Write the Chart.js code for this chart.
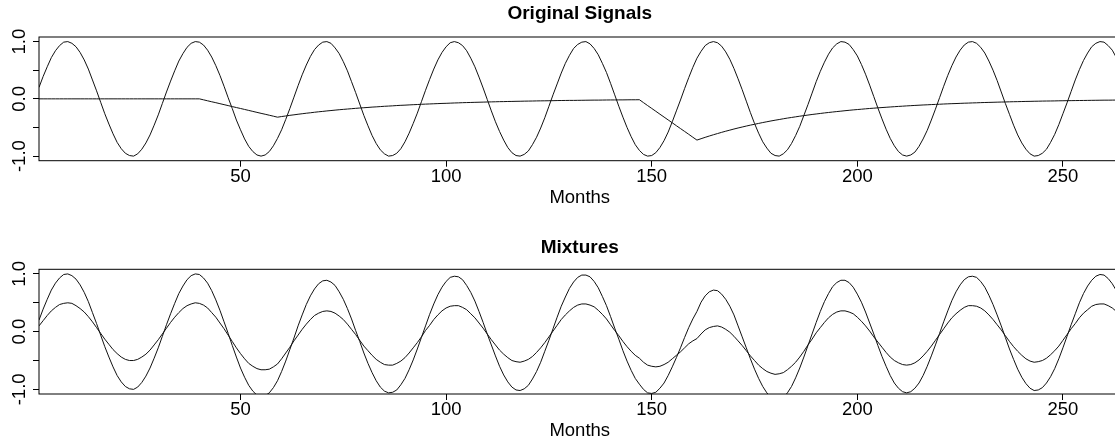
<!DOCTYPE html>
<html><head><meta charset="utf-8">
<script src="https://cdn.jsdelivr.net/npm/chart.js@4.4.1/dist/chart.umd.min.js"></script>
<style>
html,body{margin:0;padding:0;background:#fff;overflow:hidden;}
#wrap{position:relative;width:1115px;height:443px;overflow:hidden;background:#fff;}
canvas{position:absolute;left:0;}
#c1{top:0;} #c2{top:232px;}
</style></head><body>
<div id="wrap"><canvas id="c1" width="1121" height="232"></canvas><canvas id="c2" width="1121" height="211"></canvas></div>
<script>
// Seasonal source signal (months 1..264)
const SEASONAL = [
0.20,0.39,0.56,0.72,0.84,0.93,0.99,1.00,0.97,0.91,
0.81,0.68,0.52,0.33,0.14,-0.06,-0.26,-0.44,-0.61,-0.76,
-0.87,-0.95,-0.99,-1.00,-0.96,-0.88,-0.77,-0.63,-0.46,-0.28,
-0.08,0.12,0.31,0.49,0.66,0.79,0.90,0.97,1.00,0.99,
0.94,0.85,0.73,0.58,0.41,0.22,0.02,-0.17,-0.37,-0.54,
-0.70,-0.83,-0.92,-0.98,-1.00,-0.98,-0.92,-0.82,-0.69,-0.54,
-0.36,-0.17,0.03,0.23,0.42,0.59,0.74,0.86,0.94,0.99,
1.00,0.97,0.89,0.79,0.65,0.49,0.30,0.11,-0.09,-0.29,
-0.47,-0.64,-0.78,-0.89,-0.96,-1.00,-0.99,-0.95,-0.87,-0.75,
-0.60,-0.43,-0.25,-0.05,0.15,0.34,0.52,0.68,0.81,0.91,
0.98,1.00,0.98,0.93,0.84,0.71,0.56,0.38,0.19,-0.01,
-0.21,-0.40,-0.57,-0.72,-0.85,-0.94,-0.99,-1.00,-0.97,-0.91,
-0.80,-0.67,-0.51,-0.33,-0.13,0.07,0.26,0.45,0.62,0.76,
0.88,0.95,0.99,1.00,0.96,0.88,0.77,0.62,0.46,0.27,
0.07,-0.13,-0.32,-0.50,-0.66,-0.80,-0.90,-0.97,-1.00,-0.99,
-0.94,-0.85,-0.73,-0.58,-0.40,-0.21,-0.02,0.18,0.37,0.55,
0.71,0.83,0.93,0.98,1.00,0.98,0.92,0.82,0.69,0.53,
0.35,0.16,-0.04,-0.24,-0.43,-0.60,-0.75,-0.86,-0.95,-0.99,
-1.00,-0.96,-0.89,-0.78,-0.64,-0.48,-0.29,-0.10,0.10,0.30,
0.48,0.64,0.78,0.89,0.96,1.00,0.99,0.95,0.86,0.75,
0.60,0.43,0.24,0.04,-0.16,-0.35,-0.53,-0.69,-0.82,-0.92,
-0.98,-1.00,-0.98,-0.93,-0.83,-0.70,-0.55,-0.37,-0.18,0.02,
0.22,0.41,0.58,0.73,0.85,0.94,0.99,1.00,0.97,0.90,
0.80,0.66,0.50,0.32,0.12,-0.08,-0.27,-0.46,-0.63,-0.77,
-0.88,-0.96,-1.00,-0.99,-0.95,-0.88,-0.76,-0.62,-0.45,-0.26,
-0.07,0.13,0.33,0.51,0.67,0.80,0.91,0.97,1.00,0.99,
0.93,0.85,0.72,0.57
];
// Intervention source signal
const INTERVENTION = [
0,0,0,0,0,0,0,0,0,0,
0,0,0,0,0,0,0,0,0,0,
0,0,0,0,0,0,0,0,0,0,
0,0,0,0,0,0,0,0,0,0,
-0.017,-0.034,-0.051,-0.067,-0.084,-0.101,-0.118,-0.135,-0.152,-0.168,
-0.185,-0.202,-0.219,-0.236,-0.253,-0.269,-0.286,-0.303,-0.320,-0.309,
-0.299,-0.288,-0.279,-0.269,-0.260,-0.251,-0.243,-0.234,-0.226,-0.219,
-0.211,-0.204,-0.197,-0.190,-0.184,-0.178,-0.172,-0.166,-0.160,-0.155,
-0.150,-0.144,-0.140,-0.135,-0.130,-0.126,-0.122,-0.117,-0.113,-0.110,
-0.106,-0.102,-0.099,-0.095,-0.092,-0.089,-0.086,-0.083,-0.080,-0.078,
-0.075,-0.072,-0.070,-0.067,-0.065,-0.063,-0.061,-0.059,-0.057,-0.055,
-0.053,-0.051,-0.049,-0.048,-0.046,-0.045,-0.043,-0.042,-0.040,-0.039,
-0.038,-0.036,-0.035,-0.034,-0.033,-0.032,-0.030,-0.029,-0.028,-0.027,
-0.027,-0.026,-0.025,-0.024,-0.023,-0.022,-0.022,-0.021,-0.020,-0.019,
-0.019,-0.018,-0.018,-0.017,-0.016,-0.016,-0.015,-0.066,-0.117,-0.167,
-0.217,-0.268,-0.318,-0.368,-0.418,-0.469,-0.519,-0.569,-0.619,-0.670,
-0.720,-0.696,-0.672,-0.649,-0.627,-0.606,-0.585,-0.565,-0.546,-0.527,
-0.509,-0.492,-0.475,-0.459,-0.444,-0.429,-0.414,-0.400,-0.386,-0.373,
-0.361,-0.348,-0.336,-0.325,-0.314,-0.303,-0.293,-0.283,-0.273,-0.264,
-0.255,-0.246,-0.238,-0.230,-0.222,-0.215,-0.207,-0.200,-0.193,-0.187,
-0.181,-0.174,-0.168,-0.163,-0.157,-0.152,-0.147,-0.142,-0.137,-0.132,
-0.128,-0.123,-0.119,-0.115,-0.111,-0.107,-0.104,-0.100,-0.097,-0.094,
-0.090,-0.087,-0.084,-0.082,-0.079,-0.076,-0.074,-0.071,-0.069,-0.066,
-0.064,-0.062,-0.060,-0.058,-0.056,-0.054,-0.052,-0.050,-0.049,-0.047,
-0.045,-0.044,-0.042,-0.041,-0.039,-0.038,-0.037,-0.036,-0.034,-0.033,
-0.032,-0.031,-0.030,-0.029,-0.028,-0.027,-0.026,-0.025,-0.024,-0.023,
-0.023,-0.022,-0.021,-0.020
];
// Observed mixture 1 (larger amplitude)
const MIXTURE_1 = [
0.20,0.39,0.56,0.72,0.84,0.93,0.99,1.00,0.97,0.91,
0.81,0.68,0.52,0.33,0.14,-0.06,-0.26,-0.44,-0.61,-0.76,
-0.87,-0.95,-0.99,-1.00,-0.96,-0.88,-0.77,-0.63,-0.46,-0.28,
-0.08,0.12,0.31,0.49,0.66,0.79,0.90,0.97,1.00,0.99,
0.93,0.84,0.71,0.55,0.37,0.17,-0.03,-0.24,-0.44,-0.63,
-0.79,-0.93,-1.03,-1.10,-1.13,-1.11,-1.06,-0.97,-0.85,-0.69,
-0.51,-0.31,-0.11,0.10,0.29,0.47,0.62,0.74,0.83,0.88,
0.89,0.86,0.80,0.69,0.56,0.40,0.22,0.02,-0.17,-0.37,
-0.55,-0.71,-0.85,-0.96,-1.03,-1.06,-1.05,-1.01,-0.92,-0.81,
-0.66,-0.49,-0.30,-0.10,0.10,0.30,0.48,0.64,0.77,0.87,
0.94,0.96,0.95,0.90,0.80,0.68,0.53,0.35,0.16,-0.04,
-0.23,-0.42,-0.60,-0.75,-0.87,-0.96,-1.01,-1.02,-0.99,-0.93,
-0.82,-0.69,-0.53,-0.34,-0.15,0.05,0.25,0.44,0.60,0.75,
0.86,0.94,0.98,0.98,0.95,0.87,0.76,0.61,0.45,0.26,
0.06,-0.13,-0.33,-0.51,-0.67,-0.81,-0.91,-1.00,-1.06,-1.07,
-1.05,-0.98,-0.89,-0.76,-0.61,-0.45,-0.28,-0.10,0.07,0.22,
0.35,0.51,0.62,0.69,0.72,0.71,0.65,0.56,0.44,0.29,
0.10,-0.09,-0.28,-0.47,-0.65,-0.81,-0.95,-1.06,-1.14,-1.18,
-1.18,-1.14,-1.06,-0.95,-0.80,-0.63,-0.44,-0.24,-0.04,0.16,
0.35,0.52,0.66,0.78,0.85,0.89,0.89,0.85,0.77,0.65,
0.51,0.34,0.15,-0.04,-0.24,-0.43,-0.60,-0.76,-0.89,-0.98,
-1.04,-1.06,-1.04,-0.98,-0.89,-0.76,-0.60,-0.42,-0.23,-0.03,
0.17,0.36,0.54,0.69,0.81,0.90,0.95,0.96,0.94,0.87,
0.77,0.63,0.47,0.29,0.10,-0.10,-0.30,-0.48,-0.65,-0.79,
-0.90,-0.98,-1.02,-1.01,-0.97,-0.89,-0.78,-0.64,-0.47,-0.28,
-0.08,0.12,0.31,0.50,0.66,0.79,0.89,0.96,0.99,0.98,
0.92,0.83,0.71,0.56
];
// Observed mixture 2 (smaller amplitude)
const MIXTURE_2 = [
0.10,0.19,0.28,0.36,0.42,0.47,0.49,0.50,0.49,0.45,
0.40,0.34,0.26,0.17,0.07,-0.03,-0.13,-0.22,-0.31,-0.38,
-0.44,-0.48,-0.50,-0.50,-0.48,-0.44,-0.39,-0.32,-0.23,-0.14,
-0.04,0.06,0.16,0.25,0.33,0.40,0.45,0.48,0.50,0.49,
0.46,0.41,0.33,0.25,0.15,0.05,-0.06,-0.17,-0.28,-0.38,
-0.47,-0.55,-0.60,-0.64,-0.66,-0.66,-0.65,-0.61,-0.56,-0.47,
-0.37,-0.27,-0.16,-0.06,0.04,0.13,0.21,0.28,0.32,0.35,
0.36,0.35,0.32,0.27,0.21,0.13,0.04,-0.05,-0.15,-0.25,
-0.33,-0.41,-0.48,-0.53,-0.57,-0.58,-0.58,-0.55,-0.51,-0.45,
-0.37,-0.28,-0.19,-0.09,0.02,0.11,0.21,0.29,0.36,0.41,
0.44,0.45,0.45,0.42,0.38,0.31,0.24,0.15,0.06,-0.04,
-0.14,-0.23,-0.32,-0.39,-0.45,-0.50,-0.52,-0.53,-0.51,-0.48,
-0.43,-0.36,-0.28,-0.19,-0.09,0.01,0.11,0.21,0.29,0.36,
0.42,0.46,0.48,0.48,0.46,0.43,0.37,0.30,0.22,0.12,
0.02,-0.07,-0.17,-0.26,-0.34,-0.41,-0.46,-0.53,-0.58,-0.60,
-0.61,-0.60,-0.57,-0.53,-0.47,-0.41,-0.35,-0.28,-0.21,-0.16,
-0.12,-0.04,0.03,0.07,0.09,0.10,0.08,0.04,-0.01,-0.08,
-0.16,-0.24,-0.33,-0.42,-0.50,-0.58,-0.64,-0.69,-0.72,-0.74,
-0.73,-0.71,-0.66,-0.60,-0.53,-0.44,-0.34,-0.23,-0.13,-0.02,
0.07,0.16,0.24,0.30,0.34,0.36,0.36,0.34,0.31,0.25,
0.18,0.10,0.01,-0.09,-0.18,-0.27,-0.36,-0.44,-0.50,-0.54,
-0.57,-0.58,-0.57,-0.54,-0.49,-0.42,-0.34,-0.25,-0.15,-0.05,
0.05,0.15,0.24,0.31,0.37,0.42,0.45,0.45,0.44,0.41,
0.36,0.29,0.21,0.12,0.03,-0.07,-0.17,-0.26,-0.34,-0.41,
-0.47,-0.51,-0.53,-0.52,-0.50,-0.46,-0.40,-0.33,-0.25,-0.15,
-0.05,0.05,0.14,0.24,0.32,0.38,0.44,0.47,0.48,0.48,
0.45,0.41,0.35,0.27
];
const X_TICKS = [50, 100, 150, 200, 250];
const Y_TICKS = [-1, -0.5, 0, 0.5, 1];
const X_MIN = 1, X_MAX = 264;
const Y_MIN = -1.08, Y_MAX = 1.08;
const MONTHS = SEASONAL.map((_, i) => i + 1);
const FONT = "'Liberation Sans', Arial, Helvetica, sans-serif";

const framePlugin = {
  id: 'frame',
  afterDatasetsDraw(chart) {
    const {ctx, chartArea: a} = chart;
    ctx.save();
    ctx.strokeStyle = '#000';
    ctx.lineWidth = 1;
    ctx.strokeRect(a.left, a.top, a.right - a.left, a.bottom - a.top);
    ctx.restore();
  }
};

function makeChart(id, title, series, cfg) {
  return new Chart(document.getElementById(id), {
    type: 'line',
    data: {
      labels: MONTHS,
      datasets: series.map(s => ({data: s, borderColor: '#111', borderWidth: 1, pointRadius: 0, fill: false, tension: 0}))
    },
    options: {
      responsive: false, animation: false, devicePixelRatio: 1,
      layout: {padding: {left: 0, right: 0.5, top: 0, bottom: 0}},
      plugins: {
        legend: {display: false}, tooltip: {enabled: false},
        title: {display: true, text: title, fullSize: false, color: '#000',
          font: {family: FONT, size: 19, weight: 'bold', lineHeight: 1.2},
          padding: {top: cfg.titleTop, bottom: cfg.titleBottom}}
      },
      scales: {
        x: {
          type: 'linear', min: X_MIN, max: X_MAX,
          afterBuildTicks(s) { s.ticks = X_TICKS.map(v => ({value: v})); },
          afterFit(s) { s.height = cfg.xHeight; },
          grid: {drawOnChartArea: false, drawTicks: true, tickLength: 6, color: '#000'},
          border: {display: false},
          ticks: {autoSkip: false, maxRotation: 0, padding: -1, color: '#000', font: {family: FONT, size: 18.5}, callback: v => String(v)},
          title: {display: true, text: 'Months', color: '#000', font: {family: FONT, size: 18.5}, padding: {top: 0, bottom: cfg.monthsBottom}}
        },
        y: {
          min: Y_MIN, max: Y_MAX,
          afterBuildTicks(s) { s.ticks = Y_TICKS.map(v => ({value: v})); },
          afterFit(s) { s.width = 39; },
          grid: {drawOnChartArea: false, drawTicks: true, tickLength: 6, color: '#000'},
          border: {display: false},
          ticks: {autoSkip: false, minRotation: 90, maxRotation: 90, crossAlign: 'center', padding: -3.2, color: '#000',
            font: {family: FONT, size: 18.5}, callback: v => Number.isInteger(v) ? v.toFixed(1) : ''}
        }
      }
    },
    plugins: [framePlugin]
  });
}

makeChart('c1', 'Original Signals', [SEASONAL, INTERVENTION], {titleTop: 2.8, titleBottom: 11.4, xHeight: 71.3, monthsBottom: 23});
makeChart('c2', 'Mixtures', [MIXTURE_1, MIXTURE_2], {titleTop: 4.4, titleBottom: 10.1, xHeight: 49, monthsBottom: 1.4});
</script>
</body></html>
